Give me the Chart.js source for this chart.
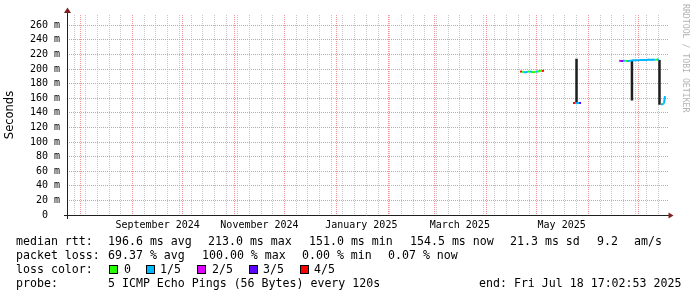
<!DOCTYPE html>
<html>
<head>
<meta charset="utf-8">
<script src="https://cdn.jsdelivr.net/npm/chart.js@4.4.1/dist/chart.umd.min.js"></script>
<style>
  body { margin: 0; background: #fff; }
  #wrap { position: relative; width: 697px; height: 297px; overflow: hidden; }
  .t { position: absolute; font-family: "DejaVu Sans Mono", monospace; font-size: 11.6px; line-height: 14px; white-space: pre; color: #000; }
  .box { position: absolute; top: 265px; width: 7px; height: 7px; border: 1px solid #000; }
  #mark { position: absolute; left: 681px; top: 4px; writing-mode: vertical-rl; font-family: "DejaVu Sans Mono", monospace; font-size: 8.2px; line-height: 10px; color: #b4b4b4; white-space: pre; }
</style>
</head>
<body>
<div id="wrap">
  <canvas id="chart" width="697" height="297"></canvas>

  <div class="t" style="left:16px;top:234px">median rtt:</div>
  <div class="t" style="left:108px;top:234px">196.6 ms avg</div>
  <div class="t" style="left:208px;top:234px">213.0 ms max</div>
  <div class="t" style="left:309px;top:234px">151.0 ms min</div>
  <div class="t" style="left:410px;top:234px">154.5 ms now</div>
  <div class="t" style="left:510px;top:234px">21.3 ms sd</div>
  <div class="t" style="left:597px;top:234px">9.2</div>
  <div class="t" style="left:634px;top:234px">am/s</div>

  <div class="t" style="left:16px;top:248px">packet loss:</div>
  <div class="t" style="left:108px;top:248px">69.37 % avg</div>
  <div class="t" style="left:202px;top:248px">100.00 % max</div>
  <div class="t" style="left:302px;top:248px">0.00 % min</div>
  <div class="t" style="left:388px;top:248px">0.07 % now</div>

  <div class="t" style="left:16px;top:262px">loss color:</div>
  <div id="lossLegend"></div>

  <div class="t" style="left:16px;top:276px">probe:</div>
  <div class="t" style="left:108px;top:276px">5 ICMP Echo Pings (56 Bytes) every 120s</div>
  <div class="t" style="left:479px;top:276px">end: Fri Jul 18 17:02:53 2025</div>

  <div id="mark">RRDTOOL / TOBI OETIKER</div>
</div>

<script>
/************************************************************
 * DATA (x = days since the start of the 360 day window)
 ************************************************************/
const windowStart = Date.UTC(2024, 6, 23, 17, 2, 53);
const windowDays = 360;

// median rtt in ms; null = no data
const medianDays = [
  271.4, 272.6, 273.7, 274.9, 276.1, 277.3, 278.5, 279.7, 280.9, 282.1, 283.3, 284.5, 285.7,
  295,
  303.1, 304.3, 305.5, 306.7, 307.9,
  320,
  330.7, 331.9, 333.1, 334.2, 335.4, 336.6, 337.8, 339.0, 340.2, 341.4, 342.6,
  343.8, 345.0, 346.2, 347.4, 348.6, 349.8, 351.0, 352.2, 353.4, 354.6,
  355.2,
  355.8, 357.0, 357.6, 358.2,
];
const medianMs = [
  196.5, 196.5, 195.5, 195.5, 196.5, 196.5, 196, 195.5, 196.5, 196.5, 197.5, 197.5, 197.5,
  null,
  153.5, 153.5, 153, 153.5, 153.5,
  null,
  211.5, 211, 211, 211.5, 211, 211, 211.5, 212, 212, 212, 212,
  212.5, 212.5, 212.5, 212.5, 213, 212.5, 213, 212.5, 213, 213,
  null,
  151.5, 152, 152.5, 163,
];
// lost pings out of 5 for each point
const medianLoss = [
  4, 0, 1, 1, 0, 1, 0, 0, 1, 0, 0, 4, 0,
  0,
  4, 1, 1, 3, 3,
  0,
  2, 3, 1, 0, 1, 1, 1, 1, 1, 1, 1,
  1, 1, 1, 1, 1, 1, 1, 0, 1, 1,
  0,
  1, 0, 1, 1,
];

// smoke (spread of the pings) where the rtt jumps
const smokeDays = [305.2, 338.4, 354.9];
const smokeLow = [152, 157, 151];
const smokeHigh = [214, 211.5, 212.5];

const lossNames = ["0", "1/5", "2/5", "3/5", "4/5"];
const lossColors = ["#26ff00", "#00b8ff", "#dd00ff", "#5e00ff", "#ff0000"];

// axis ticks
const yGridMs = [0, 10, 20, 30, 40, 50, 60, 70, 80, 90, 100, 110, 120, 130, 140, 150, 160, 170, 180, 190, 200, 210, 220, 230, 240, 250, 260, 270];
const yLabelMs = [0, 20, 40, 60, 80, 100, 120, 140, 160, 180, 200, 220, 240, 260];
const monthDates = ["2024-08-01", "2024-09-01", "2024-10-01", "2024-11-01", "2024-12-01", "2025-01-01",
  "2025-02-01", "2025-03-01", "2025-04-01", "2025-05-01", "2025-06-01", "2025-07-01"];
const labelDates = ["2024-09-16", "2024-11-16", "2025-01-16", "2025-03-16", "2025-05-16"];
const labelTexts = ["September 2024", "November 2024", "January 2025", "March 2025", "May 2025"];
const firstSunday = "2024-07-28";

/************************************************************
 * HELPERS
 ************************************************************/
const dayOf = (s) => (Date.parse(s + "T00:00:00Z") - windowStart) / 864e5;

const MONO = "'DejaVu Sans Mono', monospace";
const MAJOR = "#eb9595";
const MINOR = "#c8c8c8";
const AXIS = "#1f1f1f";
const ARROW = "#801f1f";

function buildXTicks() {
  const months = monthDates.map(dayOf);
  const ticks = months.map((d) => ({ value: d, kind: "month" }));
  for (let d = dayOf(firstSunday); d < windowDays; d += 7) {
    if (!months.some((m) => Math.abs(m - d) < 0.01)) ticks.push({ value: d, kind: "week" });
  }
  labelDates.forEach((s, i) => ticks.push({ value: dayOf(s), kind: "label", text: labelTexts[i] }));
  return ticks.sort((a, b) => a.value - b.value);
}

// legend boxes for loss colors
const boxX = [109, 146, 197, 249, 300];
const nameX = [124, 160, 212, 263, 314];
document.getElementById("lossLegend").innerHTML = lossNames
  .map(
    (n, i) => `
    <div class="box" style="left:${boxX[i]}px;background:${lossColors[i]}"></div>
    <div class="t" style="left:${nameX[i]}px;top:262px">${n}</div>`
  )
  .join("");

/************************************************************
 * CHART
 ************************************************************/
const medianPoints = medianDays.map((d, i) => ({ x: d, y: medianMs[i] }));
const smokePoints = [];
smokeDays.forEach((d, i) => {
  smokePoints.push({ x: d, y: smokeLow[i] }, { x: d, y: smokeHigh[i] }, { x: d, y: null });
});

// rrdtool style axes with small arrow heads
const rrdAxes = {
  id: "rrdAxes",
  afterDatasetsDraw(chart) {
    const { ctx, chartArea: a } = chart;
    const y0 = a.bottom + 0.5;
    const x0 = Math.round(a.left) + 0.5;
    ctx.save();
    ctx.lineWidth = 1;
    ctx.strokeStyle = AXIS;
    ctx.beginPath();
    ctx.moveTo(a.left - 3, y0);
    ctx.lineTo(a.right + 1, y0);
    ctx.moveTo(x0, a.bottom + 4);
    ctx.lineTo(x0, a.top - 3);
    ctx.stroke();

    ctx.fillStyle = ARROW;
    ctx.beginPath();
    ctx.moveTo(a.right + 0.5, y0 - 3);
    ctx.lineTo(a.right + 5.5, y0);
    ctx.lineTo(a.right + 0.5, y0 + 3);
    ctx.closePath();
    ctx.fill();
    ctx.beginPath();
    ctx.moveTo(x0 - 3.5, a.top - 2);
    ctx.lineTo(x0, a.top - 7.5);
    ctx.lineTo(x0 + 3.5, a.top - 2);
    ctx.closePath();
    ctx.fill();
    ctx.restore();
  },
};

new Chart(document.getElementById("chart"), {
  type: "line",
  data: {
    datasets: [
      {
        label: "median",
        data: medianPoints,
        borderWidth: 2,
        pointRadius: 0,
        spanGaps: false,
        borderColor: lossColors[1],
        segment: {
          borderColor: (c) => lossColors[medianLoss[c.p0DataIndex]],
        },
        order: 1,
      },
      {
        label: "smoke",
        data: smokePoints,
        borderWidth: 2.5,
        borderColor: "#1e1e1e",
        pointRadius: 0,
        spanGaps: false,
        order: 2,
      },
    ],
  },
  options: {
    responsive: false,
    animation: false,
    devicePixelRatio: 1,
    layout: { padding: { top: 15, right: 29, left: 0, bottom: 0 } },
    plugins: { legend: { display: false }, tooltip: { enabled: false } },
    scales: {
      x: {
        type: "linear",
        min: 0,
        max: windowDays,
        afterBuildTicks: (s) => { s.ticks = buildXTicks(); },
        afterFit: (s) => { s.height = 82; },
        grid: {
          drawTicks: false,
          lineWidth: 1,
          color: (c) => (c.tick && c.tick.kind === "month" ? MAJOR : c.tick && c.tick.kind === "week" ? MINOR : "rgba(0,0,0,0)"),
        },
        border: { display: false, dash: [1, 1] },
        ticks: {
          autoSkip: false,
          maxRotation: 0,
          minRotation: 0,
          padding: 4,
          color: "#000",
          font: { family: MONO, size: 10 },
          callback: (v, i, ticks) => (ticks[i].kind === "label" ? ticks[i].text : ""),
        },
      },
      y: {
        min: 0,
        max: 274,
        afterBuildTicks: (s) => { s.ticks = yGridMs.map((v) => ({ value: v })); },
        afterFit: (s) => { s.width = 67; },
        grid: {
          drawTicks: false,
          lineWidth: 1,
          color: (c) => {
            const v = c.tick ? c.tick.value : 0;
            if (v === 0) return "rgba(0,0,0,0)";
            return v % 20 === 0 ? MAJOR : MINOR;
          },
        },
        border: { display: false, dash: [1, 1] },
        title: {
          display: true,
          text: "Seconds",
          color: "#000",
          font: { family: "'DejaVu Sans', sans-serif", size: 11.5 },
          padding: { top: 3, bottom: 0 },
        },
        ticks: {
          padding: 7,
          color: "#000",
          font: { family: MONO, size: 10 },
          callback: (v) => (yLabelMs.includes(v) ? (v === 0 ? "0  " : v + " m") : ""),
        },
      },
    },
  },
  plugins: [rrdAxes],
});
</script>
</body>
</html>
